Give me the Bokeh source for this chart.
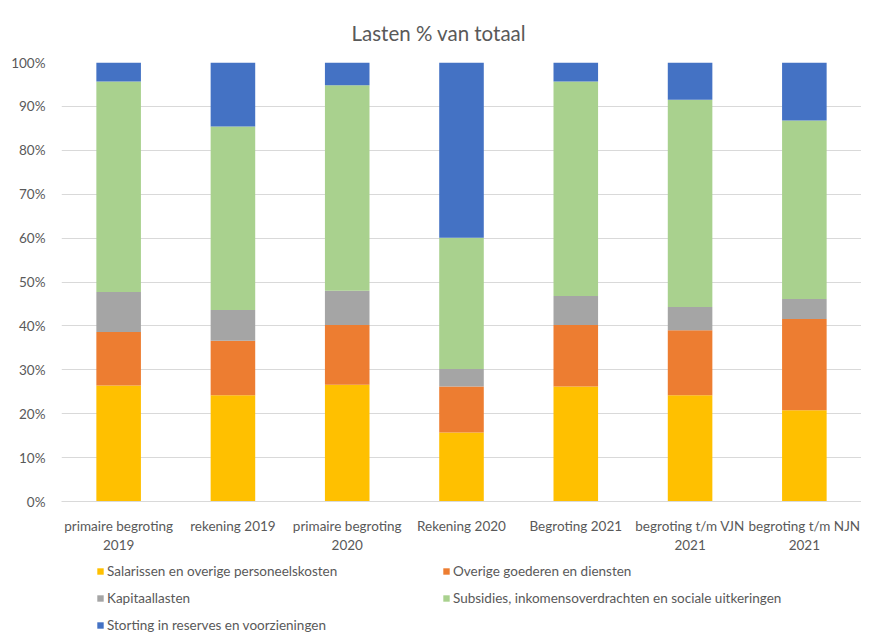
from bokeh.plotting import figure
from bokeh.layouts import column
from bokeh.models import Range1d, FixedTicker, Legend, LegendItem
from bokeh.embed import file_html
from bokeh.resources import INLINE

categories = ["primaire begroting\n2019", "rekening 2019", "primaire begroting\n2020",
              "Rekening 2020", "Begroting 2021", "begroting t/m VJN\n2021", "begroting t/m NJN\n2021"]
salarissen = [26.4, 24.2, 26.6, 15.7, 26.2, 24.2, 20.8]
goederen = [12.2, 12.4, 13.6, 10.5, 14.0, 14.8, 20.8]
kapitaal = [9.1, 7.0, 7.8, 4.0, 6.6, 5.3, 4.5]
subsidies = [48.0, 41.8, 46.8, 29.9, 48.9, 47.2, 40.7]
storting = [4.3, 14.6, 5.2, 39.9, 4.3, 8.5, 13.2]
series_names = ["Salarissen en overige personeelskosten", "Overige goederen en diensten",
                "Kapitaallasten", "Subsidies, inkomensoverdrachten en sociale uitkeringen",
                "Storting in reserves en voorzieningen"]
colors = ["#FFC000", "#ED7D31", "#A5A5A5", "#A9D18E", "#4472C4"]
y_ticks = [0, 10, 20, 30, 40, 50, 60, 70, 80, 90, 100]

FONT = "Lato"
TXT = "#595959"

xs = list(range(len(categories)))
data = {"x": xs, "s0": salarissen, "s1": goederen, "s2": kapitaal, "s3": subsidies, "s4": storting}

p = figure(frame_width=800, frame_height=439, output_backend="svg", toolbar_location=None,
           x_range=Range1d(-0.5, len(categories) - 0.5), y_range=Range1d(0, 100),
           min_border_left=61, min_border_right=0, min_border_top=40, min_border_bottom=0,
           title="Lasten % van totaal")
p.outline_line_color = None
p.title.align = "left"
p.title.text_font = FONT
p.title.text_font_size = "20.5px"
p.title.text_font_style = "normal"
p.title.text_color = TXT
p.title.offset = 290
p.title.standoff = 36

renderers = p.vbar_stack(["s0", "s1", "s2", "s3", "s4"], x="x", width=0.39, source=data,
                         color=colors, line_color=None)

p.xaxis.ticker = FixedTicker(ticks=xs)
p.xaxis.major_label_overrides = {i: c for i, c in enumerate(categories)}
p.xaxis.axis_line_color = "#D9D9D9"
p.xaxis.major_tick_line_color = None
p.xaxis.minor_tick_line_color = None
p.xaxis.major_label_text_font = FONT
p.xaxis.major_label_text_font_size = "13.5px"
p.xaxis.major_label_text_color = TXT
p.xaxis.major_label_standoff = 10
p.xgrid.grid_line_color = None

p.yaxis.ticker = FixedTicker(ticks=y_ticks)
p.yaxis.major_label_overrides = {t: f"{t}%" for t in y_ticks}
p.yaxis.axis_line_color = None
p.yaxis.major_tick_line_color = None
p.yaxis.minor_tick_line_color = None
p.yaxis.major_label_text_font = FONT
p.yaxis.major_label_text_font_size = "13.5px"
p.yaxis.major_label_text_color = TXT
p.yaxis.major_label_standoff = 10
p.ygrid.grid_line_color = "#D9D9D9"
p.ygrid.grid_line_width = 1

# legend panel below the chart (same frame geometry as the chart)
p2 = figure(frame_width=800, frame_height=80, output_backend="svg", toolbar_location=None,
            x_range=Range1d(0, 1), y_range=Range1d(0, 1), x_axis_location=None,
            y_axis_location=None, min_border_left=61, min_border_right=0,
            min_border_top=0, min_border_bottom=0)
p2.outline_line_color = None
p2.grid.grid_line_color = None
dummy = [p2.vbar(x=[5], top=[1], width=0.1, color=c, line_color=None) for c in colors]

order = [0, 2, 4, 1, 3]
items = [LegendItem(label=series_names[i], renderers=[dummy[i]]) for i in order]
legend = Legend(items=items, ncols=2, location=(35, 1), border_line_color=None,
                background_fill_alpha=0, glyph_width=8, glyph_height=8, label_standoff=3,
                label_width=327, label_height=19, spacing=8, padding=0, margin=0,
                label_text_font=FONT, label_text_font_size="13.5px", label_text_color=TXT)
p2.add_layout(legend)

layout = column(p, p2, spacing=0)
open("out.html", "w").write(file_html(layout, INLINE))
